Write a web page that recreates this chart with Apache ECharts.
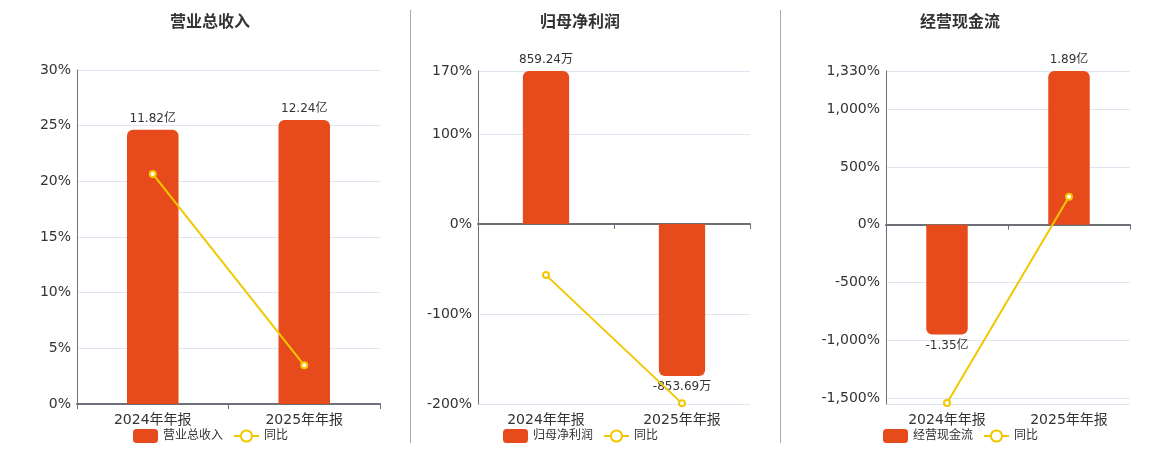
<!DOCTYPE html>
<html>
<head>
<meta charset="utf-8">
<script src="https://cdn.jsdelivr.net/npm/echarts@6/dist/echarts.min.js"></script>
<style>
html,body{margin:0;padding:0;background:#fff;}
#c{width:1160px;height:450px;}
</style>
</head>
<body>
<div id="c"></div>
<script>
// ---- data ----
var categories = ['2024年年报', '2025年年报'];
var titles = ['营业总收入', '归母净利润', '经营现金流'];
var barUnits = ['亿', '万', '亿'];
var revenueValues = [11.82, 12.24];
var revenueYoY = [20.66, 3.47];
var profitValues = [859.24, -853.69];
var profitYoY = [-56.8, -199.3];
var cashValues = [-1.35, 1.89];
var cashYoY = [-1543, 241];
var revenueTicks = [0, 5, 10, 15, 20, 25, 30];
var profitTicks = [-200, -100, 0, 100, 170];
var cashTicks = [-1500, -1000, -500, 0, 500, 1000, 1330];

var barColor = '#E84B1B';
var lineColor = '#F2C700';
var txt = '#333';
var font = 'DejaVu Sans, Noto Sans CJK SC, sans-serif';

var panels = [
  {title: titles[0], bars: revenueValues, yoy: revenueYoY, unit: barUnits[0], ticks: revenueTicks,
   grid: {left: 77, right: 780, top: 70, bottom: 46}, cx: 210, legendLeft: 133,
   lineMin: 0, lineMax: 30, interval: 5, barMin: 0, barMax: 14.4},
  {title: titles[1], bars: profitValues, yoy: profitYoY, unit: barUnits[1], ticks: profitTicks,
   grid: {left: 478, right: 410, top: 71, bottom: 46}, cx: 580, legendLeft: 503,
   lineMin: -200, lineMax: 170, interval: 100, barMax: 859.24},
  {title: titles[2], bars: cashValues, yoy: cashYoY, unit: barUnits[2], ticks: cashTicks,
   grid: {left: 886, right: 30, top: 71, bottom: 46}, cx: 960, legendLeft: 883,
   lineMin: -1552, lineMax: 1330, interval: null, barMax: 1.89}
];

function fmtPct(v) {
  return Number(v).toLocaleString('en-US') + '%';
}

var option = {
  animation: false,
  textStyle: {fontFamily: font},
  title: [], grid: [], xAxis: [], yAxis: [], series: [], legend: [],
  graphic: [
    {type: 'line', shape: {x1: 410.5, y1: 10, x2: 410.5, y2: 443}, style: {stroke: '#aaa', lineWidth: 1}},
    {type: 'line', shape: {x1: 780.5, y1: 10, x2: 780.5, y2: 443}, style: {stroke: '#aaa', lineWidth: 1}}
  ]
};

panels.forEach(function (p, i) {
  option.title.push({
    text: p.title, left: p.cx, top: 15, textAlign: 'center', padding: 0,
    textStyle: {fontSize: 16, fontWeight: 'bold', color: txt, fontFamily: font}
  });
  option.grid.push(p.grid);
  // axis line at zero with ticks
  option.xAxis.push({
    type: 'category', gridIndex: i, data: categories,
    axisLine: {show: true, onZero: true, onZeroAxisIndex: 2 * i, lineStyle: {color: '#6E7079', width: 2}},
    axisTick: {show: true, length: 5, lineStyle: {color: '#6E7079'}},
    axisLabel: {show: false}, splitLine: {show: false}
  });
  // labels at bottom
  option.xAxis.push({
    type: 'category', gridIndex: i, data: categories, position: 'bottom',
    axisLine: {show: false, onZero: false}, axisTick: {show: false},
    axisLabel: {show: true, color: txt, fontSize: 14, margin: 9, fontFamily: font},
    splitLine: {show: false}
  });
  var barMin = (p.barMin !== undefined) ? p.barMin : p.barMax * p.lineMin / p.lineMax;
  var yLine = {
    type: 'value', gridIndex: i, min: p.lineMin, max: p.lineMax,
    axisLine: {show: true, lineStyle: {color: '#6E7079'}},
    axisTick: {show: false},
    axisLabel: {color: txt, fontSize: 14, margin: 6, fontFamily: font, formatter: fmtPct},
    splitLine: {show: true, lineStyle: {color: '#E0E6F1'}}
  };
  if (p.interval) {
    yLine.interval = p.interval;
  } else {
    yLine.axisLabel.customValues = p.ticks;
    yLine.axisTick.customValues = [p.lineMin].concat(p.ticks);
  }
  option.yAxis.push(yLine);
  option.yAxis.push({
    type: 'value', gridIndex: i, min: barMin, max: p.barMax, show: false,
    splitLine: {show: false}
  });
  var barData = p.bars.map(function (v) {
    return {
      value: v,
      itemStyle: {borderRadius: v >= 0 ? [6, 6, 0, 0] : [0, 0, 6, 6]},
      label: {position: v >= 0 ? 'top' : 'bottom'}
    };
  });
  option.series.push({
    name: p.title, type: 'bar', xAxisIndex: 2 * i, yAxisIndex: 2 * i + 1,
    data: barData, barWidth: '34%',
    itemStyle: {color: barColor},
    label: {show: true, color: txt, fontSize: 12, distance: 5, fontFamily: font,
      formatter: function (pr) { return pr.value + p.unit; }}
  });
  option.series.push({
    name: '同比', type: 'line', xAxisIndex: 2 * i, yAxisIndex: 2 * i,
    data: p.yoy, symbol: 'emptyCircle', symbolSize: 6, z: 5,
    itemStyle: {color: lineColor, borderWidth: 1.5},
    lineStyle: {color: lineColor, width: 2}
  });
  option.legend.push({
    data: [p.title, '同比'], left: p.legendLeft, top: 429, padding: 0,
    itemWidth: 25, itemHeight: 14, itemGap: 10,
    textStyle: {color: txt, fontSize: 12, fontFamily: font}
  });
});

var chart = echarts.init(document.getElementById('c'), null, {renderer: 'canvas'});
chart.setOption(option);
</script>
</body>
</html>
